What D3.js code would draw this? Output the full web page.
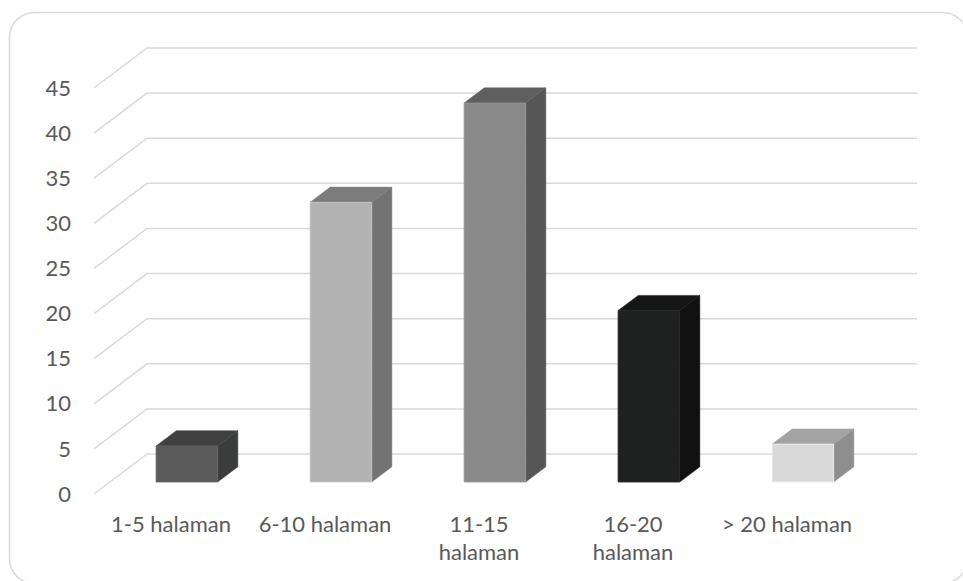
<!DOCTYPE html>
<html>
<head>
<meta charset="utf-8">
<script src="https://cdn.jsdelivr.net/npm/d3@7"></script>
<style>
  html, body { margin: 0; padding: 0; background: #ffffff; }
  svg { display: block; }
  text { font-family: Lato, "Open Sans", sans-serif; fill: #595959; }
</style>
</head>
<body>
<svg id="chart" width="963" height="581"></svg>
<script>
// Page-count categories and their values
const categories = ["1-5 halaman", "6-10 halaman", "11-15 halaman", "16-20 halaman", "> 20 halaman"];
const values = [4, 31, 42, 19, 4.2];
// Category tick labels, split into their printed lines
const tickLines = [["1-5 halaman"], ["6-10 halaman"], ["11-15", "halaman"], ["16-20", "halaman"], ["> 20 halaman"]];
const yTicks = [0, 5, 10, 15, 20, 25, 30, 35, 40, 45];
// Face colours per bar: front, top, side
const frontColors = ["#5a5a5a", "#b3b3b3", "#898989", "#1f2120", "#d9d9d9"];
const topColors = ["#404040", "#7c7c7c", "#5f5f5f", "#161616", "#a3a3a3"];
const sideColors = ["#3b3d3c", "#737373", "#565656", "#111111", "#8e8e8e"];

const svg = d3.select("#chart");

// Chart frame
svg.append("rect")
  .attr("x", 9.5).attr("y", 12.5)
  .attr("width", 958).attr("height", 571)
  .attr("rx", 25).attr("ry", 25)
  .attr("fill", "#ffffff")
  .attr("stroke", "#d9d9d9").attr("stroke-width", 1.5);

// Oblique 3D projection: depth 0 = front plane, depth 1 = back wall
const depthDX = 53, depthDY = -40;
const x = d3.scaleBand().domain(categories).range([94, 864]).padding(0);
const y = d3.scaleLinear().domain([0, 45]).range([494, 88]);
const proj = (px, py, d) => [px + depthDX * d, py + depthDY * d];

// Gridlines: diagonal along the side wall, then across the back wall
const grid = svg.append("g");
const xLeft = x.range()[0], xRight = x.range()[1];
yTicks.forEach(t => {
  const f = proj(xLeft, y(t), 0);
  const b = proj(xLeft, y(t), 1);
  const br = proj(xRight, y(t), 1);
  grid.append("path")
    .attr("d", d3.line()([f, b, br]))
    .attr("fill", "none")
    .attr("stroke", "#d9d9d9")
    .attr("stroke-width", 1.5);
});

// Value axis labels
svg.append("g").selectAll("text")
  .data(yTicks).join("text")
  .attr("x", 71)
  .attr("y", d => y(d))
  .attr("dy", "0.35em")
  .attr("text-anchor", "end")
  .attr("font-size", 22)
  .text(d => d);

// 3D bars
const barFrac = 0.4, d0 = 0.3, d1 = 0.68;
const bw = x.bandwidth() * barFrac;
const bars = svg.append("g");
categories.forEach((c, i) => {
  const x0 = x(c) + (x.bandwidth() - bw) / 2;
  const x1 = x0 + bw;
  const yt = y(values[i]), yb = y(0);
  const fTL = proj(x0, yt, d0), fTR = proj(x1, yt, d0);
  const fBR = proj(x1, yb, d0), fBL = proj(x0, yb, d0);
  const bTL = proj(x0, yt, d1), bTR = proj(x1, yt, d1), bBR = proj(x1, yb, d1);
  const poly = pts => d3.line()(pts) + "Z";
  const g = bars.append("g");
  g.append("path").attr("d", poly([fTR, bTR, bBR, fBR]))
    .attr("fill", sideColors[i]).attr("stroke", sideColors[i]).attr("stroke-width", 0.5);
  g.append("path").attr("d", poly([fTL, fTR, bTR, bTL]))
    .attr("fill", topColors[i]).attr("stroke", topColors[i]).attr("stroke-width", 0.5);
  g.append("path").attr("d", poly([fTL, fTR, fBR, fBL]))
    .attr("fill", frontColors[i]).attr("stroke", d3.color(frontColors[i]).brighter(0.3)).attr("stroke-width", 0.8);
});

// Category labels
const xl = svg.append("g");
categories.forEach((c, i) => {
  const t = xl.append("text")
    .attr("x", x(c) + x.bandwidth() / 2)
    .attr("y", 524)
    .attr("text-anchor", "middle")
    .attr("font-size", 22);
  tickLines[i].forEach((line, k) => {
    t.append("tspan")
      .attr("x", x(c) + x.bandwidth() / 2)
      .attr("y", 524 + k * 28)
      .attr("dy", "0.35em")
      .text(line);
  });
});
</script>
</body>
</html>
